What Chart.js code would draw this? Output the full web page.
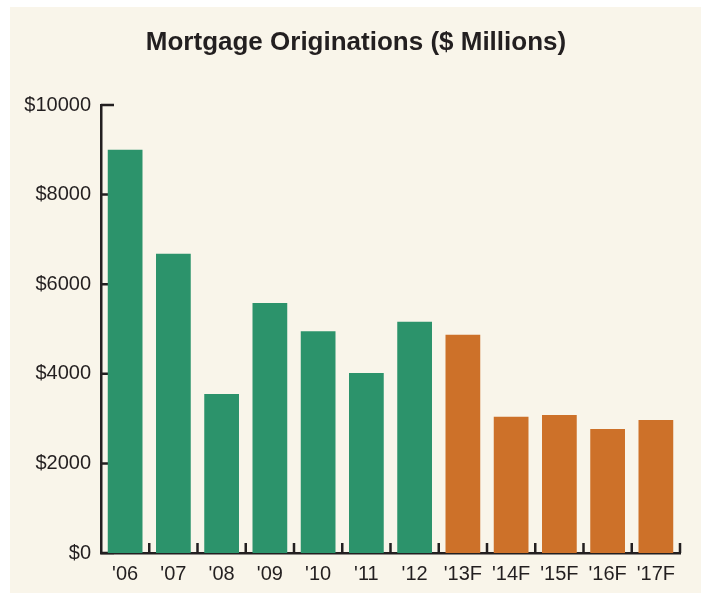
<!DOCTYPE html>
<html>
<head>
<meta charset="utf-8">
<script src="https://cdn.jsdelivr.net/npm/chart.js@4/dist/chart.umd.min.js"></script>
<style>
  html, body { margin: 0; padding: 0; background: #ffffff; }
  #wrap { width: 707px; height: 594px; position: relative; }
</style>
</head>
<body>
<div id="wrap"><canvas id="chart" width="707" height="594"></canvas></div>
<script>
// chart data
const years = ["'06", "'07", "'08", "'09", "'10", "'11", "'12", "'13F", "'14F", "'15F", "'16F", "'17F"];
const originations = [9000, 6680, 3550, 5580, 4950, 4020, 5160, 4870, 3040, 3080, 2770, 2970];
const yTicks = [0, 2000, 4000, 6000, 8000, 10000];
const chartTitle = 'Mortgage Originations ($ Millions)';

const GREEN = '#2C936B';
const ORANGE = '#CD7129';
const INK = '#231F20';
const FONT = 'Liberation Sans, Arial, sans-serif';

// forecast years (ending in F) are orange
const barColors = years.map(y => y.endsWith('F') ? ORANGE : GREEN);

// cream panel behind the whole chart, plus the title
const panelBg = {
    id: 'panelBg',
    beforeDraw(chart) {
        const ctx = chart.ctx;
        ctx.save();
        ctx.fillStyle = '#F9F5EA';
        ctx.fillRect(10, 7, 691, 586);
        ctx.fillStyle = INK;
        ctx.font = 'bold 26px ' + FONT;
        ctx.textAlign = 'center';
        ctx.textBaseline = 'alphabetic';
        ctx.fillText(chartTitle, 356, 50);
        ctx.restore();
    }
};

// tick marks drawn inward from the axes
const innerTicks = {
    id: 'innerTicks',
    beforeDatasetsDraw(chart) {
        const ctx = chart.ctx;
        const x = chart.scales.x;
        const y = chart.scales.y;
        ctx.save();
        ctx.strokeStyle = INK;
        ctx.lineWidth = 2.5;
        ctx.beginPath();
        y.ticks.forEach(t => {
            const py = y.getPixelForValue(t.value);
            ctx.moveTo(y.right, py);
            ctx.lineTo(y.right + 13, py);
        });
        const step = x.width / years.length;
        for (let k = 1; k <= years.length; k++) {
            const px = x.left + k * step;
            ctx.moveTo(px, x.top);
            ctx.lineTo(px, x.top - 10);
        }
        ctx.stroke();
        ctx.restore();
    }
};

new Chart(document.getElementById('chart'), {
    type: 'bar',
    data: {
        labels: years,
        datasets: [{
            label: 'Mortgage Originations',
            data: originations,
            backgroundColor: barColors,
            borderWidth: 0,
            categoryPercentage: 1,
            barPercentage: 0.72
        }]
    },
    options: {
        responsive: false,
        animation: false,
        layout: { padding: { left: 0, right: 27, top: 105, bottom: 0 } },
        plugins: {
            legend: { display: false },
            tooltip: { enabled: false },
            title: { display: false }
        },
        scales: {
            x: {
                grid: { display: false, drawTicks: false },
                border: { display: true, color: INK, width: 2.5 },
                ticks: {
                    color: INK,
                    padding: 9,
                    font: { family: FONT, size: 20 }
                },
                afterFit(scale) { scale.height = 41; }
            },
            y: {
                min: 0,
                max: 10000,
                afterBuildTicks(scale) { scale.ticks = yTicks.map(v => ({ value: v })); },
                grid: { display: false, drawTicks: false },
                border: { display: true, color: INK, width: 2.5 },
                ticks: {
                    color: INK,
                    padding: 10,
                    font: { family: FONT, size: 20 },
                    callback: v => '$' + v
                },
                afterFit(scale) { scale.width = 101; }
            }
        }
    },
    plugins: [panelBg, innerTicks]
});
</script>
</body>
</html>
